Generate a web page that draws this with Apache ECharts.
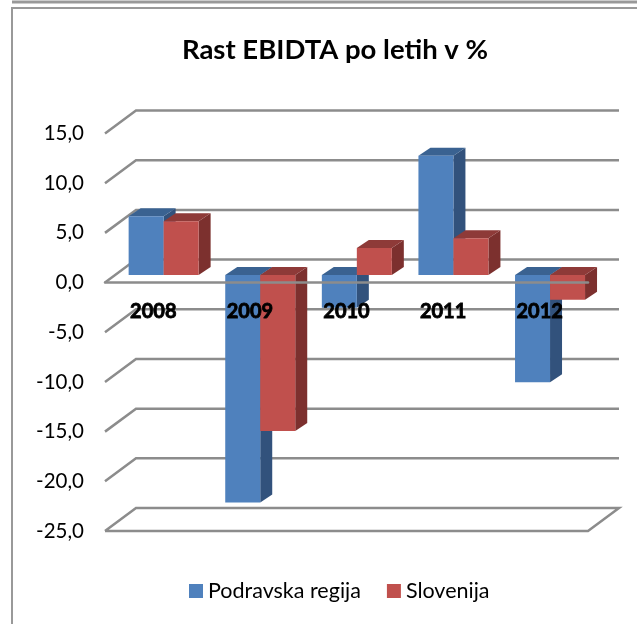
<!DOCTYPE html>
<html>
<head>
<meta charset="utf-8">
<style>
html, body { margin: 0; padding: 0; background: #fff; }
#main { width: 637px; height: 624px; }
</style>
<script src="https://cdn.jsdelivr.net/npm/echarts@6/dist/echarts.min.js"></script>
</head>
<body>
<div id="main"></div>
<script>
var categories = ['2008', '2009', '2010', '2011', '2012'];
var podravska = [5.9, -22.9, -3.3, 12.0, -10.8];
var slovenija = [5.4, -15.7, 2.7, 3.7, -2.5];
var yTicks = [15, 10, 5, 0, -5, -10, -15, -20, -25];

// depth of the floor in pixels, bars start a third of the way in
var depthX = 31;
var depthY = 23;
var barDepthX = 12;
var barDepthY = 8;
var gridColor = '#8c8c8c';
var fontName = 'Lato, "Open Sans", sans-serif';

function wallItem(params, api) {
	var sys = params.coordSys;
	var y = api.coord([0, api.value(0)])[1];
	var left = sys.x;
	var right = sys.x + sys.width;
	var pts = [ [left, y], [left + depthX, y - depthY], [right + depthX, y - depthY] ];
	// only the floor has the closing edge
	if (api.value(0) === yTicks[yTicks.length - 1]) {
		pts.push([right, y]);
		pts.push([left, y]);
	}
	return {
		type: 'polyline',
		shape: { points: pts },
		style: { stroke: gridColor, lineWidth: 2.5, fill: null }
	};
}

function barRenderer(order, front, dark, darker) {
	return function(params, api) {
		var band = api.size([1, 0])[0];
		var w = band * 0.3623;
		var dx = depthX / 3;
		var dy = depthY / 3;
		var c0 = api.coord([api.value(0), 0]);
		var c1 = api.coord([api.value(0), api.value(1)]);
		var x0 = c0[0] - w + order * w + dx;
		var x1 = x0 + w;
		var base = c0[1] - dy;
		var end = c1[1] - dy;
		var top = Math.min(base, end);
		var bottom = Math.max(base, end);
		return {
			type: 'group',
			children: [ {
				type: 'polygon',
				shape: { points: [ [x1, top], [x1 + barDepthX, top - barDepthY], [x1 + barDepthX, bottom - barDepthY], [x1, bottom] ] },
				style: { fill: darker }
			}, {
				type: 'polygon',
				shape: { points: [ [x0, top], [x0 + barDepthX, top - barDepthY], [x1 + barDepthX, top - barDepthY], [x1, top] ] },
				style: { fill: dark }
			}, {
				type: 'rect',
				shape: { x: x0, y: top, width: w, height: bottom - top },
				style: { fill: front }
			} ]
		};
	};
}

function toRows(values) {
	return values.map(function(v, i) {
		return [i, v];
	});
}

var chart = echarts.init(document.getElementById('main'));
chart.setOption({
	animation: false,
	backgroundColor: '#ffffff',
	title: {
		text: 'Rast EBIDTA po letih v %',
		left: 330,
		top: 31,
		textAlign: 'center',
		textStyle: { fontFamily: fontName, fontSize: 27.5, fontWeight: 'bold', color: '#000' }
	},
	legend: {
		data: ['Podravska regija', 'Slovenija'],
		left: 184,
		top: 575,
		icon: 'rect',
		itemWidth: 14,
		itemHeight: 14,
		itemGap: 26,
		textStyle: { fontFamily: fontName, fontSize: 21.5, color: '#000' }
	},
	grid: { left: 105, top: 133.5, width: 483, height: 397.5 },
	xAxis: {
		type: 'category',
		data: categories,
		z: 10,
		axisTick: { show: false },
		axisLine: { onZero: true, lineStyle: { color: gridColor, width: 2.5 } },
		axisLabel: {
			margin: -229,
			fontFamily: fontName,
			fontSize: 20,
			fontWeight: 'bold',
			color: '#000',
			textBorderColor: '#000',
			textBorderWidth: 0.8
		}
	},
	yAxis: {
		type: 'value',
		min: -25,
		max: 15,
		interval: 5,
		axisLine: { show: false },
		axisTick: { show: false },
		splitLine: { show: false },
		axisLabel: {
			margin: 21,
			fontFamily: fontName,
			fontSize: 20.5,
			color: '#000',
			formatter: function(v) {
				return v.toFixed(1).replace('.', ',');
			}
		}
	},
	series: [ {
		type: 'custom',
		name: 'wall',
		z: 1,
		silent: true,
		clip: false,
		coordinateSystem: 'cartesian2d',
		encode: { y: 0 },
		data: yTicks.map(function(t) { return [t]; }),
		renderItem: wallItem
	}, {
		type: 'custom',
		name: 'Podravska regija',
		z: 2,
		clip: false,
		itemStyle: { color: '#4F81BD' },
		encode: { x: 0, y: 1 },
		data: toRows(podravska),
		renderItem: barRenderer(0, '#4F81BD', '#3A6291', '#32527C')
	}, {
		type: 'custom',
		name: 'Slovenija',
		z: 3,
		clip: false,
		itemStyle: { color: '#C0504D' },
		encode: { x: 0, y: 1 },
		data: toRows(slovenija),
		renderItem: barRenderer(1, '#C0504D', '#8E3A38', '#7C302E')
	} ],
	graphic: [ {
		type: 'rect',
		shape: { x: 12, y: 8, width: 640, height: 640 },
		style: { fill: null, stroke: '#999999', lineWidth: 2 },
		silent: true
	}, {
		type: 'line',
		shape: { x1: 12, y1: 2, x2: 637, y2: 2 },
		style: { stroke: '#999999', lineWidth: 3 },
		silent: true
	} ]
});
</script>
</body>
</html>
